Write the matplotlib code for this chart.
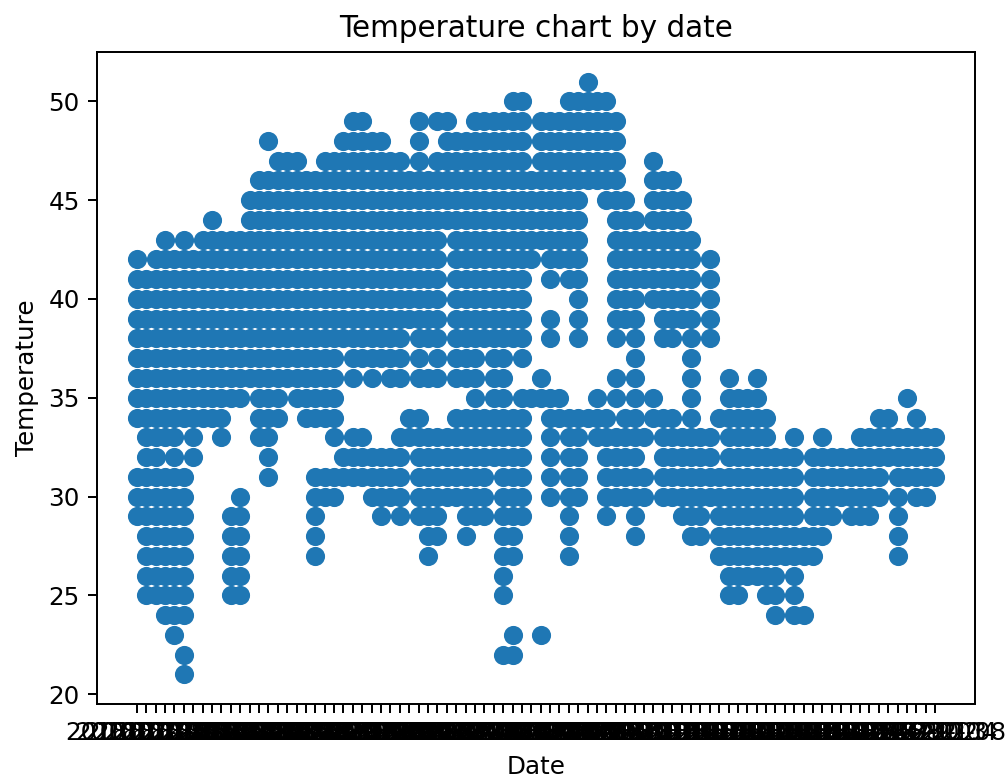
import matplotlib
matplotlib.use('Agg')
import matplotlib.pyplot as plt
import pandas as pd

# dates on the x axis, in order (tick text is not legible in the source)
dates = [
    '2018-07-28', '2018-07-29', '2018-07-30', '2018-07-31',
    '2018-08-01', '2018-08-03', '2018-08-05', '2018-08-07',
    '2018-08-09', '2018-08-11', '2018-08-13', '2018-08-15',
    '2018-08-17', '2018-08-19', '2018-08-21', '2018-08-23',
    '2018-08-25', '2018-08-27', '2018-08-29', '2018-08-31',
    '2018-09-02', '2018-09-04', '2018-09-06', '2018-09-08',
    '2018-09-10', '2018-09-12', '2018-09-14', '2018-09-16',
    '2018-09-18', '2018-09-20', '2018-09-22', '2018-09-24',
    '2018-09-26', '2018-09-28', '2018-09-30', '2018-10-01',
    '2018-10-03', '2018-10-05', '2018-10-07', '2018-10-09',
    '2018-10-11', '2018-10-13', '2018-10-15', '2018-10-17',
    '2018-10-19', '2018-10-21', '2018-10-23', '2018-10-25',
    '2018-10-27', '2018-10-29', '2018-10-31', '2018-11-01',
    '2018-11-02', '2018-11-03', '2018-11-04', '2018-11-05',
    '2018-11-06', '2018-11-07', '2018-11-08', '2018-11-09',
    '2018-11-10', '2018-11-11', '2018-11-12', '2018-11-13',
    '2018-11-14', '2018-11-15', '2018-11-16', '2018-11-17',
    '2018-11-18', '2018-11-19', '2018-11-20', '2018-11-21',
    '2018-11-22', '2018-11-23', '2018-11-24', '2018-11-25',
    '2018-11-26', '2018-11-27', '2018-11-28', '2018-11-29',
    '2018-11-30', '2018-12-01', '2018-12-02', '2018-12-03',
    '2018-12-04', '2018-12-08',
]

# for each temperature: spans of date numbers (first, last) where it was recorded
temp_51 = [(48, 48)]
temp_50 = [(40, 41), (46, 50)]
temp_49 = [(23, 24), (30, 30), (32, 33), (36, 41), (43, 51)]
temp_48 = [(14, 14), (22, 26), (30, 30), (33, 41), (43, 51)]
temp_47 = [(15, 17), (20, 28), (30, 30), (32, 41), (43, 51), (55, 55)]
temp_46 = [(13, 51), (55, 57)]
temp_45 = [(12, 47), (50, 52), (55, 58)]
temp_44 = [(8, 8), (12, 47), (51, 53), (55, 58)]
temp_43 = [(3, 3), (5, 5), (7, 32), (34, 47), (51, 59)]
temp_42 = [(0, 0), (2, 32), (34, 42), (44, 47), (51, 59), (61, 61)]
temp_41 = [(0, 32), (34, 41), (44, 44), (46, 47), (51, 59), (61, 61)]
temp_40 = [(0, 32), (34, 41), (47, 47), (51, 53), (55, 59), (61, 61)]
temp_39 = [(0, 32), (34, 41), (44, 44), (47, 47), (51, 53), (56, 59), (61, 61)]
temp_38 = [(0, 28), (30, 32), (34, 41), (44, 44), (47, 47), (51, 51), (53, 53),
           (56, 57), (59, 59), (61, 61)]
temp_37 = [(0, 21), (23, 28), (30, 30), (32, 32), (34, 36), (38, 39), (41, 41),
           (53, 53), (59, 59)]
temp_36 = [(0, 21), (23, 23), (25, 25), (27, 28), (30, 32), (34, 36), (38, 39),
           (43, 43), (51, 51), (53, 53), (59, 59), (63, 63), (66, 66)]
temp_35 = [(0, 11), (13, 15), (17, 21), (36, 36), (38, 39), (41, 45), (49, 49),
           (51, 51), (53, 53), (55, 55), (59, 59), (63, 66), (82, 82)]
temp_34 = [(0, 9), (13, 15), (18, 21), (29, 30), (34, 41), (44, 50), (52, 53),
           (55, 57), (59, 59), (62, 67), (79, 80), (83, 83)]
temp_33 = [(1, 4), (6, 6), (9, 9), (13, 14), (21, 21), (23, 24), (28, 41), (44, 44),
           (46, 47), (49, 54), (56, 61), (63, 67), (70, 70), (73, 73), (77, 85)]
temp_32 = [(1, 2), (4, 4), (6, 6), (14, 14), (22, 28), (30, 41), (44, 44), (46, 47),
           (50, 53), (56, 61), (63, 70), (72, 85)]
temp_31 = [(0, 5), (14, 14), (19, 28), (30, 37), (39, 41), (44, 44), (46, 47),
           (50, 54), (56, 70), (72, 79), (81, 85)]
temp_30 = [(0, 5), (11, 11), (19, 21), (25, 28), (30, 37), (39, 41), (44, 44),
           (46, 47), (50, 54), (56, 70), (72, 79), (81, 81), (83, 84)]
temp_29 = [(0, 5), (10, 11), (19, 19), (26, 26), (28, 28), (30, 32), (35, 37),
           (39, 41), (46, 46), (50, 50), (53, 53), (58, 60), (62, 70), (72, 74),
           (76, 78), (81, 81)]
temp_28 = [(1, 5), (10, 11), (19, 19), (31, 32), (35, 35), (39, 40), (46, 46),
           (53, 53), (59, 60), (62, 73), (81, 81)]
temp_27 = [(1, 5), (10, 11), (19, 19), (31, 31), (39, 40), (46, 46), (62, 72), (81, 81)]
temp_26 = [(1, 5), (10, 11), (39, 39), (63, 68), (70, 70)]
temp_25 = [(1, 5), (10, 11), (39, 39), (63, 64), (67, 68), (70, 70)]
temp_24 = [(3, 5), (68, 68), (70, 71)]
temp_23 = [(4, 4), (40, 40), (43, 43)]
temp_22 = [(5, 5), (39, 40)]
temp_21 = [(5, 5)]

readings = {
    51: temp_51, 50: temp_50, 49: temp_49, 48: temp_48, 47: temp_47, 46: temp_46,
    45: temp_45, 44: temp_44, 43: temp_43, 42: temp_42, 41: temp_41, 40: temp_40,
    39: temp_39, 38: temp_38, 37: temp_37, 36: temp_36, 35: temp_35, 34: temp_34,
    33: temp_33, 32: temp_32, 31: temp_31, 30: temp_30, 29: temp_29, 28: temp_28,
    27: temp_27, 26: temp_26, 25: temp_25, 24: temp_24, 23: temp_23, 22: temp_22,
    21: temp_21,
}

rows = []
for temp, spans in readings.items():
    for first, last in spans:
        for n in range(first, last + 1):
            rows.append((n, dates[n], temp))
# sorted so the category axis picks up the dates in order
df = pd.DataFrame(rows, columns=['n', 'date', 'temp']).sort_values('n')

fig = plt.figure(figsize=(1005 / 177, 778 / 177), dpi=177)
ax = fig.add_axes([97 / 1005, 1 - 704 / 778, 878 / 1005, 652 / 778])
ax.scatter(df['date'], df['temp'], s=46)
ax.set_title('Temperature chart by date')
ax.set_xlabel('Date')
ax.set_ylabel('Temperature')

fig.savefig('out.png', dpi=177)
